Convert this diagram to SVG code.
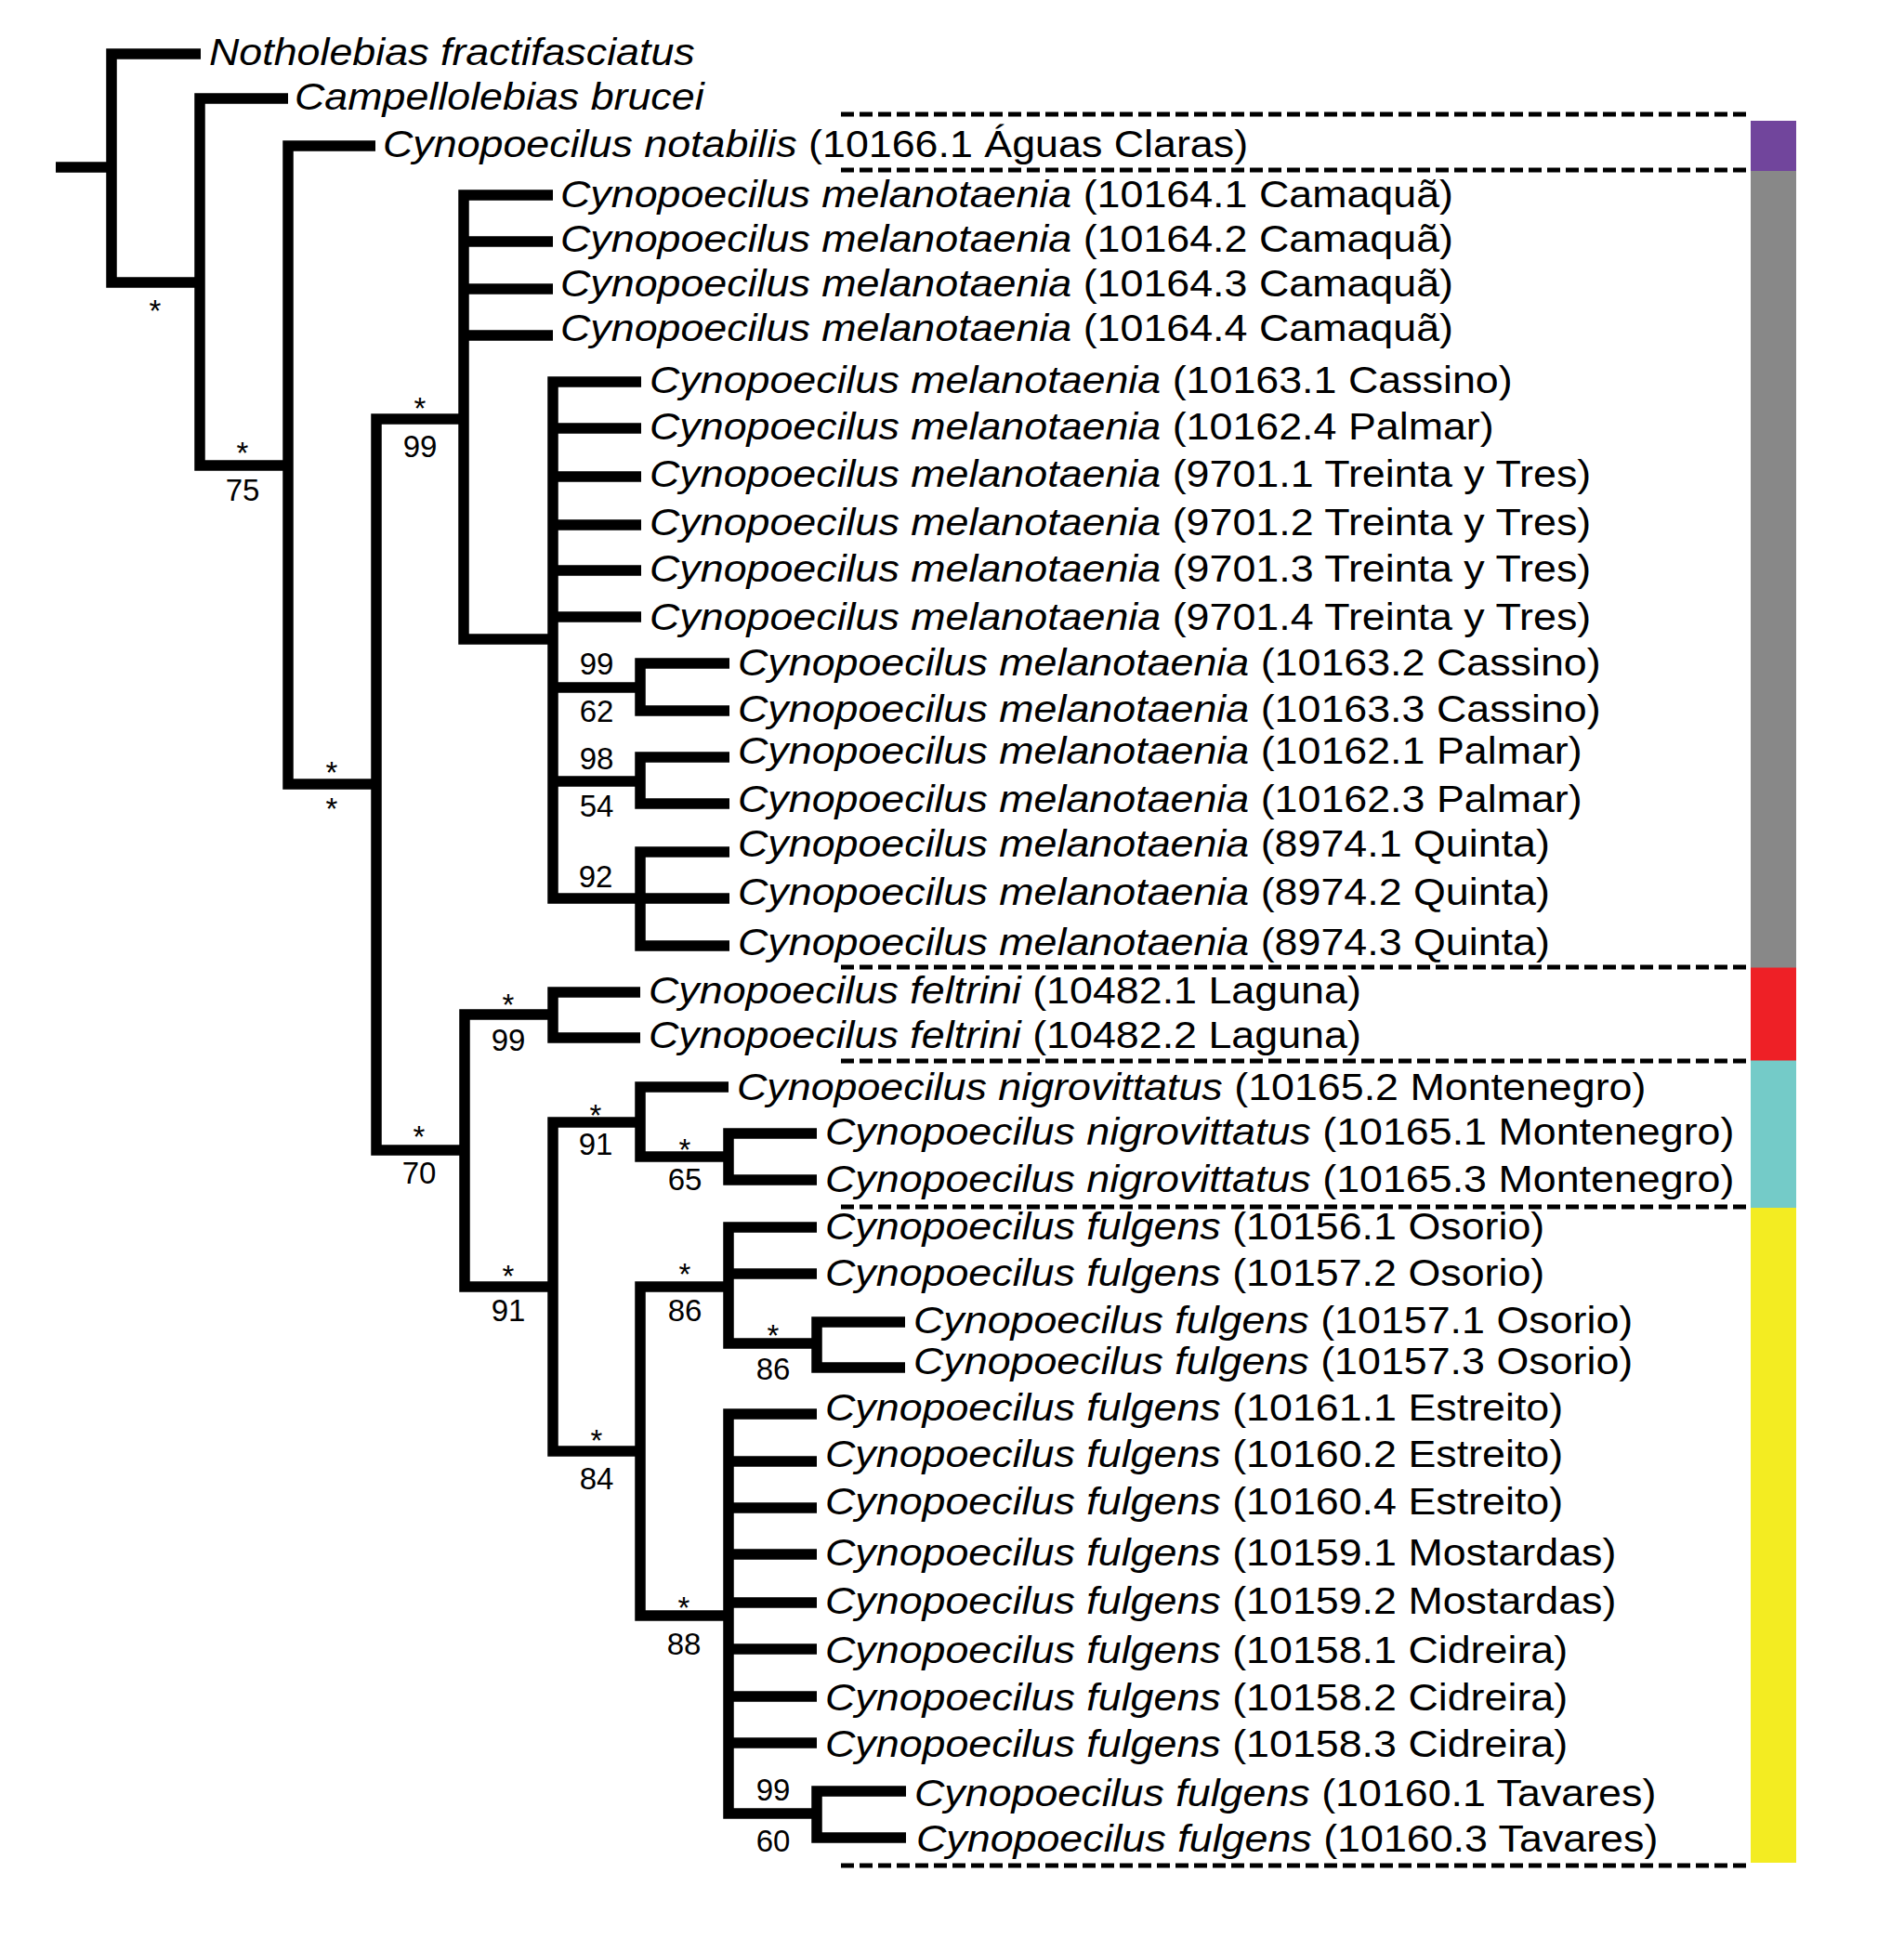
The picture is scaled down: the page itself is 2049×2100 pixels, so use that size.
<svg xmlns="http://www.w3.org/2000/svg" width="2049" height="2100" viewBox="0 0 2049 2100">
<style>
.br{fill:none;stroke:#000;stroke-width:11.5;stroke-linejoin:miter;stroke-linecap:butt}
.dash{fill:none;stroke:#000;stroke-width:5;stroke-dasharray:14 6}
.tx{font-family:"Liberation Sans",Arial,sans-serif;font-size:40px;fill:#000}
.tx .i{font-style:italic}
.lb{font-family:"Liberation Sans",Arial,sans-serif;font-size:33px;fill:#000;text-anchor:middle}
</style>
<rect width="2049" height="2100" fill="#fff"/>
<g id="connectors">
<path class="br" d="M60 180H120"/>
<path class="br" d="M216 58H120V304H215"/>
<path class="br" d="M310 106H215V501H310"/>
<path class="br" d="M404 157H310V844H405"/>
<path class="br" d="M499 451H405V1238H500"/>
<path class="br" d="M595 210H499V688H595M499 260H595M499 311H595M499 361H595"/>
<path class="br" d="M690 411H595V967H689M595 461H690M595 513H690M595 565H690M595 614H690M595 664H690M595 740H689M595 841H689"/>
<path class="br" d="M785 714H689V765H785"/>
<path class="br" d="M785 815H689V865H785"/>
<path class="br" d="M785 917H689V1018H785M689 967H785"/>
<path class="br" d="M595 1092H500V1385H595"/>
<path class="br" d="M689 1068H595V1117H689"/>
<path class="br" d="M689 1208H595V1562H689"/>
<path class="br" d="M784 1170H689V1245H784"/>
<path class="br" d="M879 1220H784V1270H879"/>
<path class="br" d="M784 1385H689V1739H784"/>
<path class="br" d="M879 1321H784V1446H879M784 1371H879"/>
<path class="br" d="M974 1423H879V1472H974"/>
<path class="br" d="M879 1522H784V1952H879M784 1573H879M784 1623H879M784 1673H879M784 1725H879M784 1775H879M784 1826H879M784 1876H879"/>
<path class="br" d="M975 1928H879V1978H975"/>
</g>
<g id="labels">
<text class="lb" x="167" y="346">*</text>
<text class="lb" x="261" y="499">*</text><text class="lb" x="261" y="539">75</text>
<text class="lb" x="357" y="843">*</text><text class="lb" x="357" y="882">*</text>
<text class="lb" x="452" y="451">*</text><text class="lb" x="452" y="492">99</text>
<text class="lb" x="642" y="726">99</text><text class="lb" x="642" y="777">62</text>
<text class="lb" x="642" y="828">98</text><text class="lb" x="642" y="879">54</text>
<text class="lb" x="641" y="955">92</text>
<text class="lb" x="451" y="1235">*</text><text class="lb" x="451" y="1274">70</text>
<text class="lb" x="547" y="1093">*</text><text class="lb" x="547" y="1131">99</text>
<text class="lb" x="547" y="1385">*</text><text class="lb" x="547" y="1422">91</text>
<text class="lb" x="641" y="1212">*</text><text class="lb" x="641" y="1243">91</text>
<text class="lb" x="737" y="1249">*</text><text class="lb" x="737" y="1281">65</text>
<text class="lb" x="642" y="1562">*</text><text class="lb" x="642" y="1603">84</text>
<text class="lb" x="737" y="1383">*</text><text class="lb" x="737" y="1422">86</text>
<text class="lb" x="832" y="1449">*</text><text class="lb" x="832" y="1485">86</text>
<text class="lb" x="736" y="1742">*</text><text class="lb" x="736" y="1781">88</text>
<text class="lb" x="832" y="1938">99</text><text class="lb" x="832" y="1993">60</text>
</g>
<g id="taxa">
<text class="tx" transform="translate(225,70) scale(1.12,1)"><tspan class="i">Notholebias fractifasciatus</tspan></text>
<text class="tx" transform="translate(317,118) scale(1.12,1)"><tspan class="i">Campellolebias brucei</tspan></text>
<text class="tx" transform="translate(412,169) scale(1.12,1)"><tspan class="i">Cynopoecilus notabilis</tspan> (10166.1 Águas Claras)</text>
<text class="tx" transform="translate(603,223) scale(1.12,1)"><tspan class="i">Cynopoecilus melanotaenia</tspan> (10164.1 Camaquã)</text>
<text class="tx" transform="translate(603,271) scale(1.12,1)"><tspan class="i">Cynopoecilus melanotaenia</tspan> (10164.2 Camaquã)</text>
<text class="tx" transform="translate(603,319) scale(1.12,1)"><tspan class="i">Cynopoecilus melanotaenia</tspan> (10164.3 Camaquã)</text>
<text class="tx" transform="translate(603,367) scale(1.12,1)"><tspan class="i">Cynopoecilus melanotaenia</tspan> (10164.4 Camaquã)</text>
<text class="tx" transform="translate(699,423) scale(1.12,1)"><tspan class="i">Cynopoecilus melanotaenia</tspan> (10163.1 Cassino)</text>
<text class="tx" transform="translate(699,473) scale(1.12,1)"><tspan class="i">Cynopoecilus melanotaenia</tspan> (10162.4 Palmar)</text>
<text class="tx" transform="translate(699,524) scale(1.12,1)"><tspan class="i">Cynopoecilus melanotaenia</tspan> (9701.1 Treinta y Tres)</text>
<text class="tx" transform="translate(699,576) scale(1.12,1)"><tspan class="i">Cynopoecilus melanotaenia</tspan> (9701.2 Treinta y Tres)</text>
<text class="tx" transform="translate(699,626) scale(1.12,1)"><tspan class="i">Cynopoecilus melanotaenia</tspan> (9701.3 Treinta y Tres)</text>
<text class="tx" transform="translate(699,678) scale(1.12,1)"><tspan class="i">Cynopoecilus melanotaenia</tspan> (9701.4 Treinta y Tres)</text>
<text class="tx" transform="translate(794,727) scale(1.12,1)"><tspan class="i">Cynopoecilus melanotaenia</tspan> (10163.2 Cassino)</text>
<text class="tx" transform="translate(794,777) scale(1.12,1)"><tspan class="i">Cynopoecilus melanotaenia</tspan> (10163.3 Cassino)</text>
<text class="tx" transform="translate(794,822) scale(1.12,1)"><tspan class="i">Cynopoecilus melanotaenia</tspan> (10162.1 Palmar)</text>
<text class="tx" transform="translate(794,874) scale(1.12,1)"><tspan class="i">Cynopoecilus melanotaenia</tspan> (10162.3 Palmar)</text>
<text class="tx" transform="translate(794,922) scale(1.12,1)"><tspan class="i">Cynopoecilus melanotaenia</tspan> (8974.1 Quinta)</text>
<text class="tx" transform="translate(794,974) scale(1.12,1)"><tspan class="i">Cynopoecilus melanotaenia</tspan> (8974.2 Quinta)</text>
<text class="tx" transform="translate(794,1028) scale(1.12,1)"><tspan class="i">Cynopoecilus melanotaenia</tspan> (8974.3 Quinta)</text>
<text class="tx" transform="translate(698,1080) scale(1.12,1)"><tspan class="i">Cynopoecilus feltrini</tspan> (10482.1 Laguna)</text>
<text class="tx" transform="translate(698,1128) scale(1.12,1)"><tspan class="i">Cynopoecilus feltrini</tspan> (10482.2 Laguna)</text>
<text class="tx" transform="translate(793,1184) scale(1.12,1)"><tspan class="i">Cynopoecilus nigrovittatus</tspan> (10165.2 Montenegro)</text>
<text class="tx" transform="translate(888,1232) scale(1.12,1)"><tspan class="i">Cynopoecilus nigrovittatus</tspan> (10165.1 Montenegro)</text>
<text class="tx" transform="translate(888,1283) scale(1.12,1)"><tspan class="i">Cynopoecilus nigrovittatus</tspan> (10165.3 Montenegro)</text>
<text class="tx" transform="translate(888,1334) scale(1.12,1)"><tspan class="i">Cynopoecilus fulgens</tspan> (10156.1 Osorio)</text>
<text class="tx" transform="translate(888,1384) scale(1.12,1)"><tspan class="i">Cynopoecilus fulgens</tspan> (10157.2 Osorio)</text>
<text class="tx" transform="translate(983,1435) scale(1.12,1)"><tspan class="i">Cynopoecilus fulgens</tspan> (10157.1 Osorio)</text>
<text class="tx" transform="translate(983,1479) scale(1.12,1)"><tspan class="i">Cynopoecilus fulgens</tspan> (10157.3 Osorio)</text>
<text class="tx" transform="translate(888,1529) scale(1.12,1)"><tspan class="i">Cynopoecilus fulgens</tspan> (10161.1 Estreito)</text>
<text class="tx" transform="translate(888,1579) scale(1.12,1)"><tspan class="i">Cynopoecilus fulgens</tspan> (10160.2 Estreito)</text>
<text class="tx" transform="translate(888,1630) scale(1.12,1)"><tspan class="i">Cynopoecilus fulgens</tspan> (10160.4 Estreito)</text>
<text class="tx" transform="translate(888,1685) scale(1.12,1)"><tspan class="i">Cynopoecilus fulgens</tspan> (10159.1 Mostardas)</text>
<text class="tx" transform="translate(888,1737) scale(1.12,1)"><tspan class="i">Cynopoecilus fulgens</tspan> (10159.2 Mostardas)</text>
<text class="tx" transform="translate(888,1790) scale(1.12,1)"><tspan class="i">Cynopoecilus fulgens</tspan> (10158.1 Cidreira)</text>
<text class="tx" transform="translate(888,1841) scale(1.12,1)"><tspan class="i">Cynopoecilus fulgens</tspan> (10158.2 Cidreira)</text>
<text class="tx" transform="translate(888,1891) scale(1.12,1)"><tspan class="i">Cynopoecilus fulgens</tspan> (10158.3 Cidreira)</text>
<text class="tx" transform="translate(984,1944) scale(1.12,1)"><tspan class="i">Cynopoecilus fulgens</tspan> (10160.1 Tavares)</text>
<text class="tx" transform="translate(986,1993) scale(1.12,1)"><tspan class="i">Cynopoecilus fulgens</tspan> (10160.3 Tavares)</text>
</g>
<g id="groups">
<path class="dash" d="M905 123H1879M905 183H1879M905 1041H1879M905 1142H1879M905 1299H1879M905 2008H1879"/>
<rect x="1884" y="130" width="49" height="54" fill="#71459C"/>
<rect x="1884" y="184" width="49" height="858" fill="#888888"/>
<rect x="1884" y="1041.5" width="49" height="100.5" fill="#EE2026"/>
<rect x="1884" y="1141.5" width="49" height="159" fill="#74CBC8"/>
<rect x="1884" y="1300" width="49" height="705" fill="#F3EC22"/>
</g>
</svg>
